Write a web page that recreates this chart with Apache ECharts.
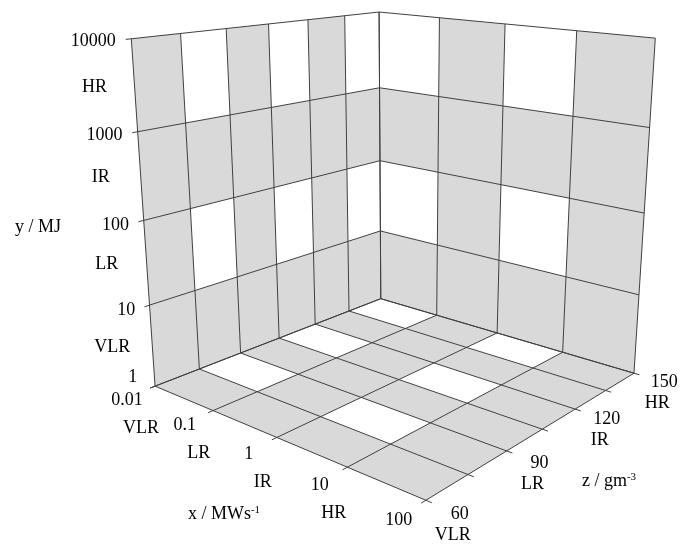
<!DOCTYPE html>
<html><head><meta charset="utf-8">
<script src="https://cdn.jsdelivr.net/npm/echarts@6/dist/echarts.min.js"></script>
<style>html,body{margin:0;padding:0;background:#fff}#c{width:686px;height:545px}</style>
</head><body><div id="c"></div>
<script>
// ---------------- data ----------------
const yTicks = [1, 10, 100, 1000, 10000];
const yCats = ['VLR', 'LR', 'IR', 'HR'];
const xTicks = [0.01, 0.1, 1, 10, 100];
const xCats = ['VLR', 'LR', 'IR', 'HR'];
const zBounds = [60, 75, 90, 105, 120, 135, 150];
const zTicks = [60, 90, 120, 150];
const zCats = ['VLR', 'LR', 'IR', 'HR'];
// 1 = white cell, 0 = grey cell
const leftWall = [      // rows: y decades bottom->top, cols: z bands 60->150
  [0, 0, 0, 0, 0, 0],
  [0, 1, 0, 1, 0, 1],
  [0, 0, 0, 0, 0, 0],
  [0, 1, 0, 1, 0, 1]
];
const rightWall = [     // rows: y decades bottom->top, cols: x decades 0.01->100
  [0, 0, 0, 0],
  [1, 0, 1, 0],
  [0, 0, 0, 0],
  [1, 0, 1, 0]
];
const floorCells = [    // rows: z bands 60->150, cols: x decades 0.01->100
  [0, 0, 0, 0],
  [1, 0, 1, 0],
  [0, 0, 0, 0],
  [1, 0, 1, 0],
  [0, 0, 0, 0],
  [1, 0, 1, 0]
];

// ---------------- camera (box frame -> screen) ----------------
// reference points: [x-frac, z-frac, y-frac, screenX, screenY]
const camRef = [
  [0,0,0,153.3,383.3],[0,1,0,381,300.5],[1,1,0,633,373],[1,0,0,430,501],
  [0,0,1,133,41],[0,1,1,380,10.3],[1,1,1,656,34.3],
  [0,1,0.75,380,90],[0,1,0.5,380,160],[0,1,0.25,380.5,231],
  [0,0,0.75,137,131],[0,0,0.5,142.5,222],[0,0,0.25,147,306],
  [1,1,0.75,648.3,131],[1,1,0.5,642.7,211.7],[1,1,0.25,637.7,294],
  [0.25,0,0,215,410],[0.5,0,0,278,437],[0.75,0,0,347,467],
  [1,1/3,0,505,453.3],[1,2/3,0,575,409],
  [0.25,1,0,435,315],[0.5,1,0,498,333],[0.75,1,0,565,353],
  [0,1/6,0,199,368],[0,2/6,0,239,352],[0,3/6,0,280,338],[0,4/6,0,316,324],[0,5/6,0,350,311]
];
function fitCamera(ref) {
  const N = 11;
  const A = Array.from({length: N}, () => new Array(N).fill(0));
  const b = new Array(N).fill(0);
  const add = (row, r) => { for (let i = 0; i < N; i++) { b[i] += row[i] * r; for (let j = 0; j < N; j++) A[i][j] += row[i] * row[j]; } };
  ref.forEach(([X, Y, Z, u, v]) => {
    add([X, Y, Z, 1, 0, 0, 0, 0, -u * X, -u * Y, -u * Z], u);
    add([0, 0, 0, 0, X, Y, Z, 1, -v * X, -v * Y, -v * Z], v);
  });
  for (let c = 0; c < N; c++) {
    let p = c;
    for (let r = c + 1; r < N; r++) if (Math.abs(A[r][c]) > Math.abs(A[p][c])) p = r;
    [A[c], A[p]] = [A[p], A[c]]; [b[c], b[p]] = [b[p], b[c]];
    for (let r = 0; r < N; r++) {
      if (r === c) continue;
      const f = A[r][c] / A[c][c];
      for (let k = c; k < N; k++) A[r][k] -= f * A[c][k];
      b[r] -= f * b[c];
    }
  }
  return b.map((v, i) => v / A[i][i]);
}
const CAM = fitCamera(camRef);
function project(P) {
  const [X, Y, Z] = P, p = CAM;
  const d = p[8] * X + p[9] * Y + p[10] * Z + 1;
  return [(p[0] * X + p[1] * Y + p[2] * Z + p[3]) / d, (p[4] * X + p[5] * Y + p[6] * Z + p[7]) / d];
}

// ---------------- rendering helpers ----------------
const FACE = {
  left:  (a, b) => [0, a, b],
  right: (a, b) => [a, 1, b],
  floor: (a, b) => [a, b, 0]
};
const GREY = '#d9d9d9', LINE = '#404040', EXT = 0.018;
const FAMILY = '"Liberation Serif", "Times New Roman", serif';
const FONT = '18px ' + FAMILY;
function txtStyle(text, align) {
  return {text, font: FONT, fontFamily: FAMILY, fontSize: 18, fill: '#000',
    align, textAlign: align, verticalAlign: 'middle', textVerticalAlign: 'middle'};
}
function normOf(params, api, v) {
  const pt = api.coord(v), cs = params.coordSys;
  return [(pt[0] - cs.x) / cs.width, 1 - (pt[1] - cs.y) / cs.height];
}
function cellSeries(face, g, data) {
  return {
    type: 'custom', coordinateSystem: 'cartesian2d', xAxisIndex: g, yAxisIndex: g, z: 1, silent: true,
    encode: {x: [0, 1], y: [2, 3]}, data,
    renderItem(params, api) {
      const n0 = normOf(params, api, [api.value(0), api.value(2)]);
      const n1 = normOf(params, api, [api.value(1), api.value(3)]);
      const f = FACE[face];
      const pts = [[n0[0], n0[1]], [n1[0], n0[1]], [n1[0], n1[1]], [n0[0], n1[1]]].map(n => project(f(n[0], n[1])));
      return {type: 'polygon', shape: {points: pts}, style: {fill: api.value(4) ? '#ffffff' : GREY, stroke: null}};
    }
  };
}
function lineSeries(face, g, data) {
  return {
    type: 'custom', coordinateSystem: 'cartesian2d', xAxisIndex: g, yAxisIndex: g, z: 2, silent: true,
    encode: {x: [0, 2], y: [1, 3]}, data,
    renderItem(params, api) {
      let n0 = normOf(params, api, [api.value(0), api.value(1)]);
      let n1 = normOf(params, api, [api.value(2), api.value(3)]);
      const d = [n1[0] - n0[0], n1[1] - n0[1]];
      if (api.value(4)) n0 = [n0[0] - EXT * d[0], n0[1] - EXT * d[1]];
      if (api.value(5)) n1 = [n1[0] + EXT * d[0], n1[1] + EXT * d[1]];
      const f = FACE[face];
      const p0 = project(f(n0[0], n0[1])), p1 = project(f(n1[0], n1[1]));
      return {type: 'line', shape: {x1: p0[0], y1: p0[1], x2: p1[0], y2: p1[1]}, style: {stroke: LINE, lineWidth: 1}};
    }
  };
}
function labelSeries(g, data, texts, place) {
  return {
    type: 'custom', coordinateSystem: 'cartesian2d', xAxisIndex: g, yAxisIndex: g, z: 3, silent: true,
    encode: {x: 0, y: 1}, data,
    renderItem(params, api) {
      const i = api.value(2);
      const n = normOf(params, api, [api.value(0), api.value(1)]);
      const r = place(n, i);
      return {type: 'text', x: r.x, y: r.y, style: txtStyle(texts[i], r.align)};
    }
  };
}

// ---------------- build data items from arrays ----------------
const leftCells = [], rightCells = [], floorData = [];
leftWall.forEach((row, r) => row.forEach((w, c) => leftCells.push([zBounds[c], zBounds[c + 1], yTicks[r], yTicks[r + 1], w])));
rightWall.forEach((row, r) => row.forEach((w, c) => rightCells.push([xTicks[c], xTicks[c + 1], yTicks[r], yTicks[r + 1], w])));
floorCells.forEach((row, r) => row.forEach((w, c) => floorData.push([xTicks[c], xTicks[c + 1], zBounds[r], zBounds[r + 1], w])));

const zMin = zBounds[0], zMax = zBounds[zBounds.length - 1];
const xMin = xTicks[0], xMax = xTicks[xTicks.length - 1];
const yMin = yTicks[0], yMax = yTicks[yTicks.length - 1];
const leftLines = [
  ...yTicks.map(t => [zMin, t, zMax, t, 1, 0]),
  ...zBounds.map(z => [z, yMin, z, yMax, 0, 0])
];
const rightLines = [
  ...yTicks.map(t => [xMin, t, xMax, t, 0, 0]),
  ...xTicks.map(x => [x, yMin, x, yMax, 0, 0])
];
const floorLines = [
  ...xTicks.map(x => [x, zMin, x, zMax, 1, 0]),
  ...zBounds.map(z => [xMin, z, xMax, z, 0, 1])
];

const xLabelPos = (n) => { const p = project([n[0], -0.1, 0]); return [p[0], p[1] + 3]; };
const zLabelPos = (n) => project([1.1, n[1], 0]);

const supRich = {
  a: {fontFamily: FAMILY, fontSize: 18, fill: '#000'},
  s: {fontFamily: FAMILY, fontSize: 11, fill: '#000', verticalAlign: 'top'}
};
function titleText(x, y, text) {
  return {type: 'text', x, y, silent: true, style: Object.assign(txtStyle(text, 'center'), {rich: supRich})};
}

const option = {
  animation: false,
  backgroundColor: '#ffffff',
  textStyle: {fontFamily: FAMILY},
  grid: [0, 1, 2].map(() => ({left: 0, top: 0, width: 100, height: 100, show: false})),
  xAxis: [
    {gridIndex: 0, type: 'value', min: zMin, max: zMax, show: false},
    {gridIndex: 1, type: 'log', logBase: 10, min: xMin, max: xMax, show: false},
    {gridIndex: 2, type: 'log', logBase: 10, min: xMin, max: xMax, show: false}
  ],
  yAxis: [
    {gridIndex: 0, type: 'log', logBase: 10, min: yMin, max: yMax, show: false},
    {gridIndex: 1, type: 'log', logBase: 10, min: yMin, max: yMax, show: false},
    {gridIndex: 2, type: 'value', min: zMin, max: zMax, show: false}
  ],
  series: [
    cellSeries('left', 0, leftCells),
    cellSeries('right', 1, rightCells),
    cellSeries('floor', 2, floorData),
    lineSeries('left', 0, leftLines),
    lineSeries('right', 1, rightLines),
    lineSeries('floor', 2, floorLines),
    // y tick labels
    labelSeries(0, yTicks.map((t, i) => [zMin, t, i]), yTicks.map(String), (n, i) => {
      const p = project([0, -0.05, n[1]]);
      return i === 0 ? {x: p[0] - 4, y: p[1] - 14, align: 'right'} : {x: p[0], y: p[1] + 1, align: 'right'};
    }),
    // y category labels
    labelSeries(0, yCats.map((c, i) => [zMin, Math.sqrt(yTicks[i] * yTicks[i + 1]), i]), yCats, (n) => {
      const p = project([0, 0, n[1]]);
      return {x: p[0] - 40, y: p[1] + 1, align: 'center'};
    }),
    // x tick labels
    labelSeries(2, xTicks.map((t, i) => [t, zMin, i]), xTicks.map(String), (n) => {
      const p = xLabelPos(n); return {x: p[0], y: p[1], align: 'center'};
    }),
    // x category labels
    labelSeries(2, xCats.map((c, i) => [xTicks[i], zMin, i]), xCats, (n) => {
      const p = xLabelPos(n); return {x: p[0] + 14, y: p[1] + 28, align: 'center'};
    }),
    // z tick labels
    labelSeries(2, zTicks.map((t, i) => [xMax, t, i]), zTicks.map(String), (n) => {
      const p = zLabelPos(n); return {x: p[0], y: p[1], align: 'center'};
    }),
    // z category labels
    labelSeries(2, zCats.map((c, i) => [xMax, zTicks[i], i]), zCats, (n) => {
      const p = zLabelPos(n); return {x: p[0] - 7, y: p[1] + 21, align: 'center'};
    })
  ],
  graphic: [
    titleText(38, 227, 'y / MJ'),
    titleText(224, 514, '{a|x / MWs}{s|-1}'),
    titleText(609, 481, '{a|z / gm}{s|-3}')
  ]
};
const chart = echarts.init(document.getElementById('c'), null, {renderer: 'canvas'});
chart.setOption(option);
</script>
</body></html>
